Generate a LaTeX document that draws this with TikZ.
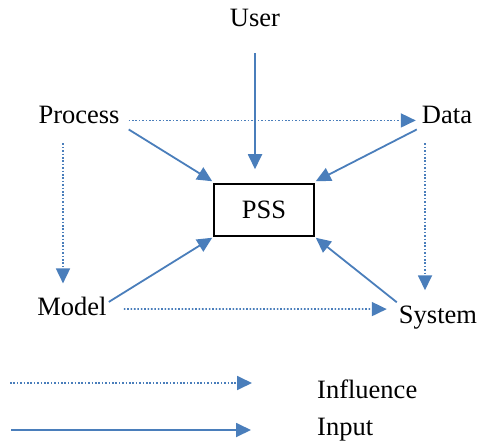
\documentclass[tikz,border=0pt]{standalone}
\usepackage{fontspec}
\setmainfont{Liberation Serif}
\usetikzlibrary{arrows.meta,calc}
\definecolor{arrblue}{RGB}{74,126,187}
\begin{document}
\begin{tikzpicture}[x=1pt,y=-1pt,
  lbl/.style={inner sep=0pt,anchor=base,font=\fontsize{26.5}{30}\selectfont},
  inputarrow/.style={draw=arrblue,line width=1.8pt,-{Triangle[length=15pt,width=14pt,fill=arrblue]}},
  influencearrow/.style={draw=arrblue,line width=1.8pt,dash pattern=on 1.6pt off 1.8pt,-{Triangle[length=15pt,width=14pt,fill=arrblue]}},
  pssbox/.style={draw=black,line width=1.5pt,minimum width=100pt,minimum height=52pt,inner sep=0pt,font=\fontsize{26.5}{30}\selectfont}]
\useasboundingbox (0,0) rectangle (478,446);
\node[lbl] (user) at (255,27) {User};
\node[lbl] (process) at (79,124) {Process};
\node[lbl] (data) at (447,124) {Data};
\node[lbl] (model) at (72,315) {Model};
\node[lbl] (system) at (438,323) {System};
\node[pssbox] (pss) at (264,210) {PSS};
\node[lbl,anchor=base west] (influence) at (317,398) {Influence};
\node[lbl,anchor=base west] (input) at (317,435) {Input};
% influence arrows
\draw[influencearrow] ($(process.east)+(9,5)$) -- ($(data.west)+(-6,5)$);
\draw[influencearrow] ($(process.south)+(-16,19)$) -- ($(model.north)+(-9,-13)$);
\draw[influencearrow] ($(data.south)+(-22,19)$) -- ($(system.north)+(-13,-15)$);
\draw[influencearrow] ($(model.east)+(17,3)$) -- ($(system.west)+(-12,-8)$);
% input arrows
\draw[inputarrow] ($(user.south)+(0,26)$) -- ($(pss.north)+(-9,-14)$);
\draw[inputarrow] ($(process.south east)+(9,5)$) -- ($(pss.north west)+(-1,-2)$);
\draw[inputarrow] ($(data.south west)+(-5,5)$) -- ($(pss.north east)+(1,-2)$);
\draw[inputarrow] ($(model.east)+(2,-4)$) -- ($(pss.south west)+(-1,1)$);
\draw[inputarrow] ($(system.north west)+(-2,-3)$) -- ($(pss.south east)+(1,1)$);
% legend
\coordinate (l1s) at (10,383);
\coordinate (l1e) at (252,383);
\coordinate (l2s) at (11,430);
\coordinate (l2e) at (251,430);
\draw[influencearrow] (l1s) -- (l1e);
\draw[inputarrow] (l2s) -- (l2e);
\end{tikzpicture}
\end{document}
